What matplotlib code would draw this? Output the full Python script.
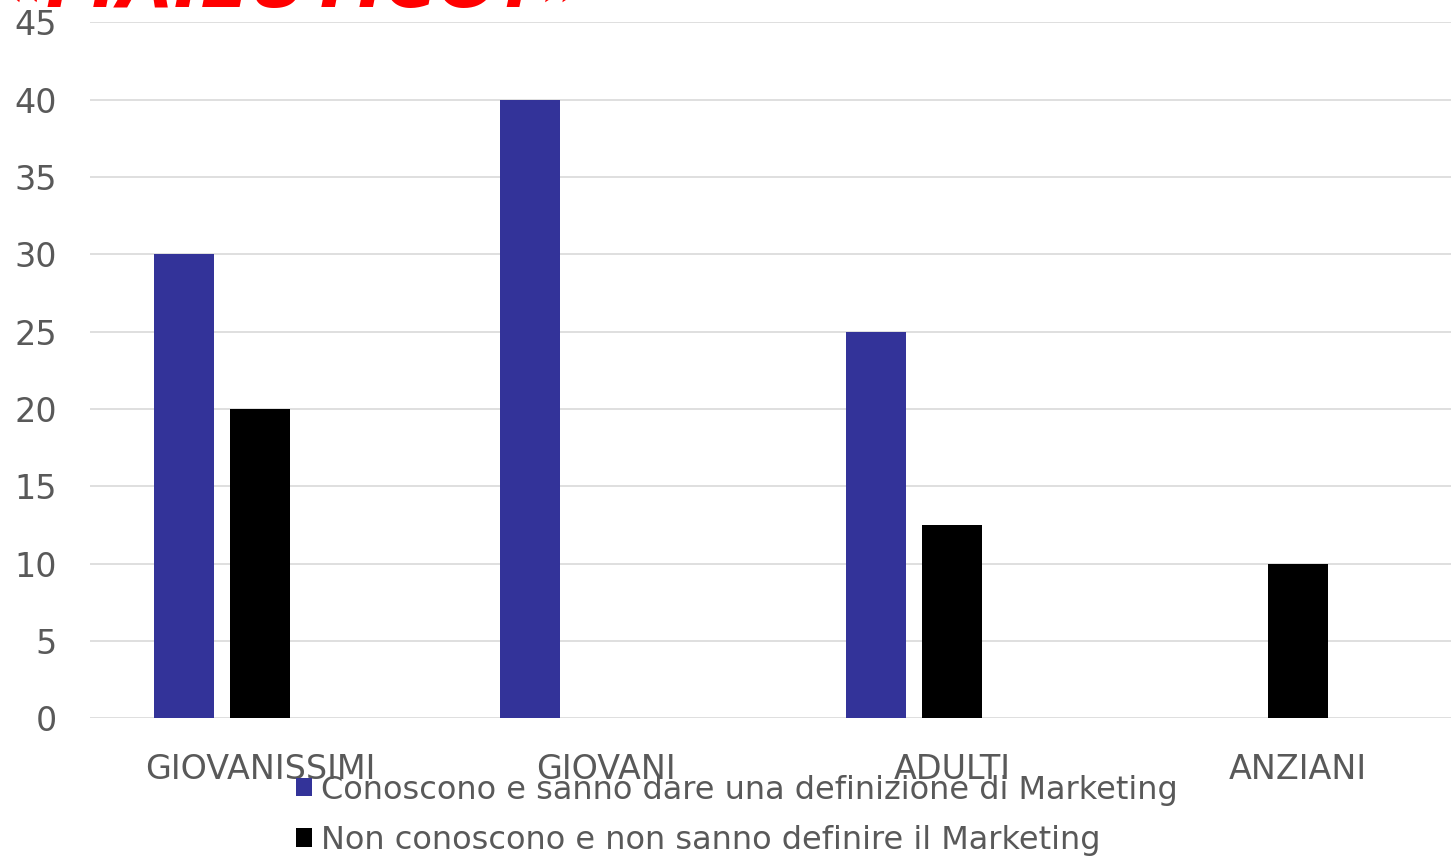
import numpy as np
import matplotlib.pyplot as plt

# Dati del grafico
categorie = ['GIOVANISSIMI', 'GIOVANI', 'ADULTI', 'ANZIANI']
conoscono = [30, 40, 25, 0]
non_conoscono = [20, 0, 12.5, 10]
etichette = ['Conoscono e sanno dare una definizione di Marketing',
             'Non conoscono e non sanno definire il Marketing']
yticks = [0, 5, 10, 15, 20, 25, 30, 35, 40, 45]

plt.rcParams['font.family'] = 'sans-serif'
plt.rcParams['font.sans-serif'] = ['DejaVu Sans']

fig = plt.figure(figsize=(14.51, 8.59), dpi=100)
ax = fig.add_axes([0.062, 0.164, 0.938, 0.810])

x = np.arange(len(categorie))
larghezza = 0.173
passo = 0.22

b1 = ax.bar(x - passo, conoscono, larghezza, color='#333399', zorder=3)
b2 = ax.bar(x, non_conoscono, larghezza, color='#000000', zorder=3)

ax.set_ylim(0, 45)
ax.set_xlim(-0.491, 3.442)
ax.set_yticks(yticks)
ax.set_xticks(x)
ax.set_xticklabels(categorie)
ax.tick_params(axis='y', length=0, labelsize=24, labelcolor='#595959', pad=24)
ax.tick_params(axis='x', length=0, labelsize=24, labelcolor='#595959', pad=25)

ax.grid(axis='y', color='#d9d9d9', linewidth=1.2, zorder=0)
for s in ax.spines.values():
    s.set_visible(False)

ax.legend([b1, b2], etichette, loc='upper left', bbox_to_anchor=(0.195, 0.113),
          bbox_transform=fig.transFigure, frameon=False, fontsize=23,
          handlelength=0.5, handleheight=0.5, handletextpad=0.3,
          labelspacing=0.6, labelcolor='#595959', borderaxespad=0)

# titolo rosso tagliato in alto
fig.text(0.0, 1.014, '\u00abMAIEUTICO?\u00bb', color='#ff0000', fontsize=52,
         fontweight='bold', fontstyle='italic', ha='left', va='center')

fig.savefig('out.png', dpi=100)
